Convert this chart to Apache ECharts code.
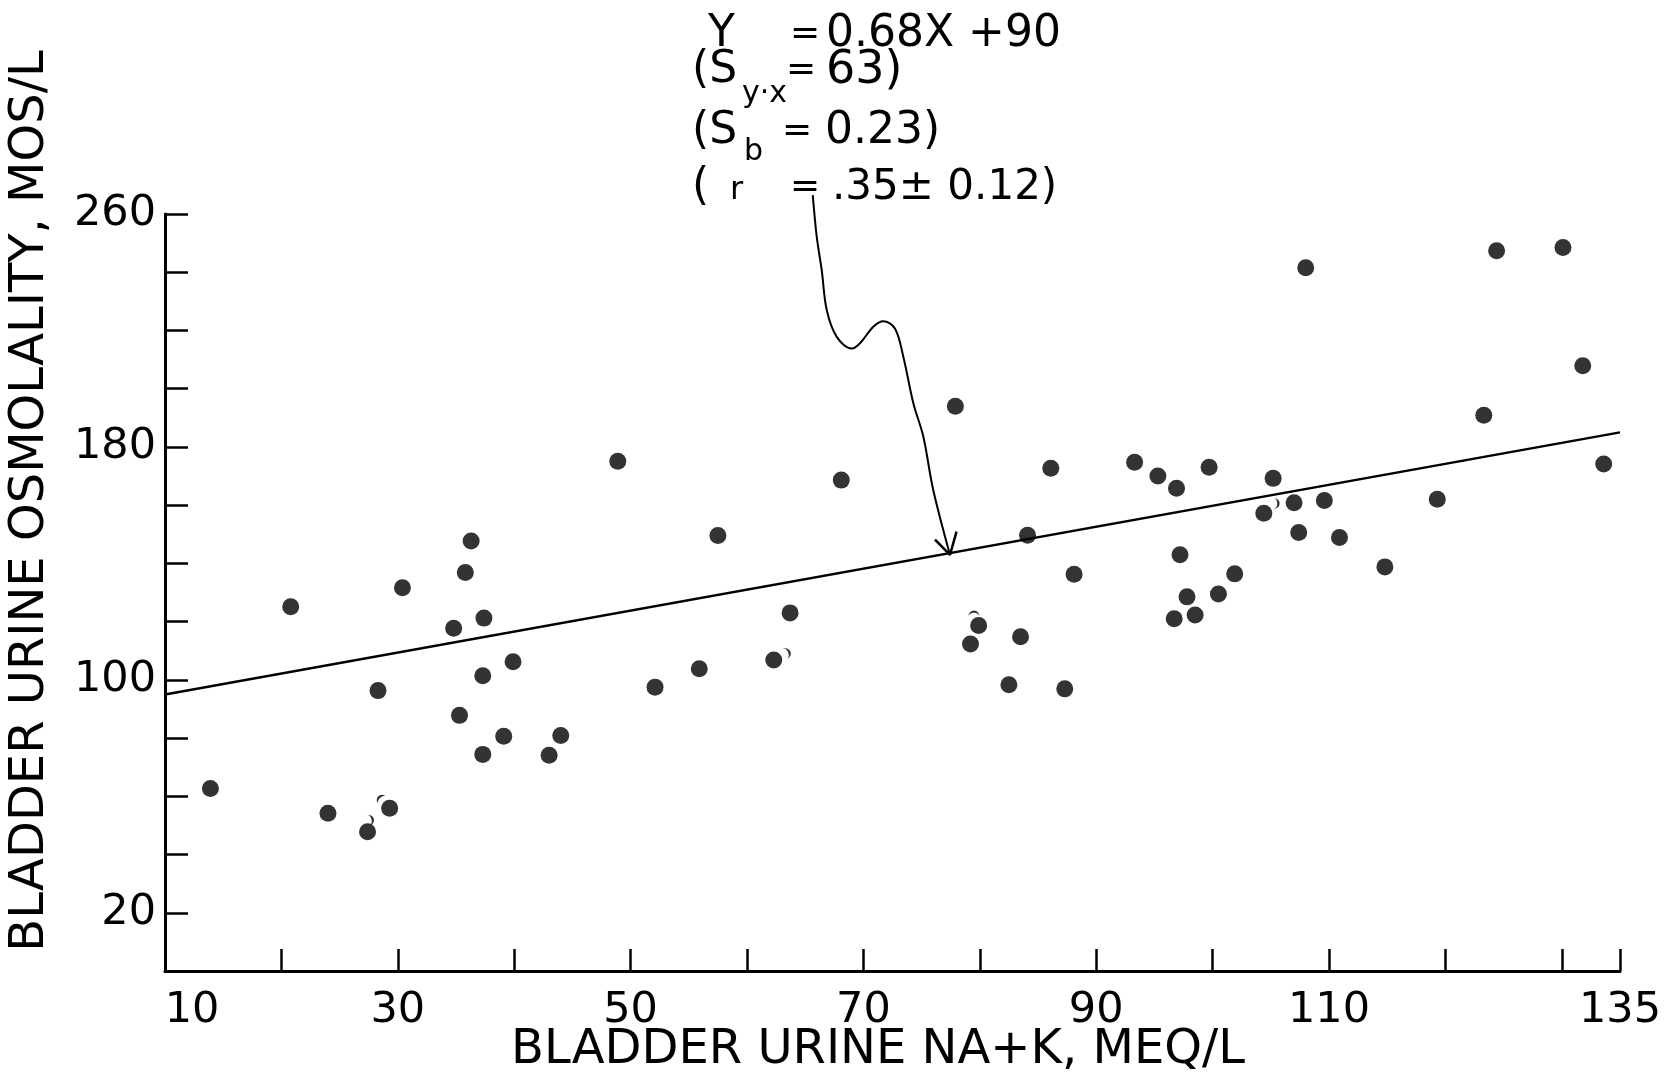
<!DOCTYPE html>
<html lang="en">
<head>
<meta charset="UTF-8">
<title>Bladder urine osmolality vs Na+K</title>
<script src="https://cdn.jsdelivr.net/npm/echarts@6/dist/echarts.min.js"></script>
<style>
    html, body { margin: 0; padding: 0; background: #fff; }
    #chart { width: 1669px; height: 1083px; }
</style>
</head>
<body>
<div id="chart"></div>
<script>
    // bladder urine Na+K (mEq/L) and osmolality, one entry per dot
    var naK = [
        13.9, 20.8, 24.0, 27.4, 29.3, 28.3, 30.4, 36.3, 35.8, 37.4, 34.8, 39.9, 37.3, 35.3, 39.1, 37.3, 44.0, 43.0,
        48.9, 68.1, 57.5, 77.9, 86.1, 84.1, 88.1, 63.7, 62.3, 55.9, 52.1, 79.9, 79.2, 83.5, 82.5, 87.3,
        93.3, 95.3, 96.9, 99.7, 105.2, 104.4, 107.0, 109.6, 119.3, 123.3, 133.6, 97.2, 107.4, 110.9, 114.8,
        101.9, 100.5, 97.8, 96.7, 98.5, 108.0, 124.4, 130.1, 131.8
    ];
    var osmolality = [
        62.7, 125.1, 54.2, 47.8, 55.9, 96.3, 131.6, 147.7, 136.9, 121.2, 117.7, 106.2, 101.4, 87.8, 80.6, 74.4, 80.9, 74.1,
        175.1, 168.6, 149.6, 194.0, 172.7, 149.7, 136.3, 123.0, 106.8, 103.8, 97.5, 118.7, 112.3, 114.8, 98.3, 96.9,
        174.7, 170.0, 165.8, 173.0, 169.2, 157.2, 160.8, 161.6, 162.0, 190.9, 174.1, 143.0, 150.6, 148.9, 138.8,
        136.4, 129.5, 128.5, 121.0, 122.3, 241.5, 247.4, 248.5, 207.9
    ];

    // small "repeat" hooks drawn next to some dots
    var hookX = [28.5, 27.7, 63.5, 79.5, 105.5];
    var hookY = [59.3, 51.9, 109.3, 122.8, 160.6];
    var hookRot = [135, 10, 20, 90, 0];

    // regression line as drawn (ends of the ruled line)
    var fitX = [10, 135];
    var fitY = [95, 185];

    // hand drawn pointer from the equation to the line
    var arrowX = [65.65, 65.99, 66.42, 66.85, 67.71, 69.0, 69.71, 70.85, 71.71, 72.71, 73.43, 74.29, 75.15, 76.0, 77.44];
    var arrowY = [266.5, 252.2, 240.7, 227.0, 217.8, 213.8, 215.6, 221.3, 223.2, 220.7, 211.0, 195.0, 183.5, 165.2, 142.9];
    var headX = [76.15, 77.44, 78.0];
    var headY = [148.2, 142.9, 150.9];

    // axis ticks and labels
    var xTicks = [20, 30, 40, 50, 60, 70, 80, 90, 100, 110, 120, 130, 135];
    var xLabels = [10, 30, 50, 70, 90, 110, 135];
    var yTicks = [20, 40, 60, 80, 100, 120, 140, 160, 180, 200, 220, 240, 260];
    var yLabels = [20, 100, 180, 260];

    function pairs(xs, ys) {
        var out = [];
        for (var i = 0; i < xs.length; i++) {
            out.push([xs[i], ys[i]]);
        }
        return out;
    }

    var FONT = '"DejaVu Sans", "Liberation Sans", sans-serif';

    function label(x, y, text, size, align) {
        return {
            type: 'text',
            x: x,
            y: y,
            style: {
                text: text,
                font: size + 'px ' + FONT,
                fill: '#000',
                textAlign: align || 'left',
                textVerticalAlign: 'middle'
            }
        };
    }

    var hooks = [];
    for (var i = 0; i < hookX.length; i++) {
        hooks.push({ value: [hookX[i], hookY[i]], symbolRotate: hookRot[i] });
    }

    var myChart = echarts.init(document.getElementById('chart'));

    var option = {
        backgroundColor: '#fff',
        animation: false,
        grid: {
            left: 165,
            right: 49,
            top: 214,
            bottom: 112
        },
        xAxis: {
            type: 'value',
            min: 10,
            max: 135,
            axisLine: { show: true, lineStyle: { color: '#000', width: 3 } },
            axisTick: {
                show: true,
                inside: true,
                length: 22,
                customValues: xTicks,
                lineStyle: { color: '#000', width: 2.5 }
            },
            axisLabel: {
                customValues: xLabels,
                margin: 18,
                color: '#000',
                fontSize: 43,
                fontFamily: FONT,
                formatter: function (v) {
                    return v === 10 ? '{first|10}' : String(v);
                },
                rich: {
                    first: { padding: [0, 0, 0, 54], fontSize: 43, fontFamily: FONT, color: '#000' }
                }
            },
            splitLine: { show: false }
        },
        yAxis: {
            type: 'value',
            min: 0,
            max: 260,
            axisLine: { show: true, lineStyle: { color: '#000', width: 3 } },
            axisTick: {
                show: true,
                inside: true,
                length: 23,
                customValues: yTicks,
                lineStyle: { color: '#000', width: 2.5 }
            },
            axisLabel: {
                customValues: yLabels,
                margin: 9,
                color: '#000',
                fontSize: 43,
                fontFamily: FONT
            },
            splitLine: { show: false }
        },
        series: [
            {
                type: 'line',
                data: pairs(fitX, fitY),
                symbol: 'none',
                lineStyle: { color: '#000', width: 2.5 },
                silent: true
            },
            {
                type: 'line',
                data: pairs(arrowX, arrowY),
                smooth: 0.35,
                clip: false,
                symbol: 'none',
                lineStyle: { color: '#000', width: 2 },
                silent: true
            },
            {
                type: 'line',
                data: pairs(headX, headY),
                symbol: 'none',
                lineStyle: { color: '#000', width: 2.5 },
                silent: true
            },
            {
                type: 'scatter',
                data: pairs(naK, osmolality),
                symbol: 'circle',
                symbolSize: 17,
                itemStyle: { color: '#000' }
            },
            {
                type: 'scatter',
                data: hooks,
                symbol: 'path://M0,0 A10,10 0 0,1 0,20 A6,10 0 0,0 0,0 Z',
                symbolSize: [6, 11],
                itemStyle: { color: '#000' },
                silent: true
            }
        ],
        graphic: [
            {
                type: 'text',
                x: 31,
                y: 501,
                rotation: Math.PI / 2,
                style: {
                    text: 'BLADDER URINE OSMOLALITY, MOS/L',
                    font: '48px ' + FONT,
                    fill: '#000',
                    textAlign: 'center',
                    textVerticalAlign: 'middle'
                }
            },
            {
                type: 'text',
                x: 878,
                y: 1051,
                style: {
                    text: 'BLADDER URINE NA+K, MEQ/L',
                    font: '48px ' + FONT,
                    fill: '#000',
                    textAlign: 'center',
                    textVerticalAlign: 'middle'
                }
            },
            // equation block
            label(708, 35, 'Y', 44),
            label(805, 35, '=', 36, 'center'),
            label(826, 35, '0.68X +90', 44),
            label(692, 71, '(S', 44),
            label(742, 94, 'y·x', 30),
            label(801, 71, '=', 36, 'center'),
            label(826, 71, '63)', 46),
            label(692, 132, '(S', 44),
            label(744, 152, 'b', 30),
            label(797, 132, '=', 36, 'center'),
            label(825, 132, '0.23)', 44),
            label(692, 188, '(', 44),
            label(730, 191, 'r', 32),
            label(805, 188, '=', 36, 'center'),
            label(832, 188, '.35± 0.12)', 42)
        ]
    };

    myChart.setOption(option);
</script>
</body>
</html>
